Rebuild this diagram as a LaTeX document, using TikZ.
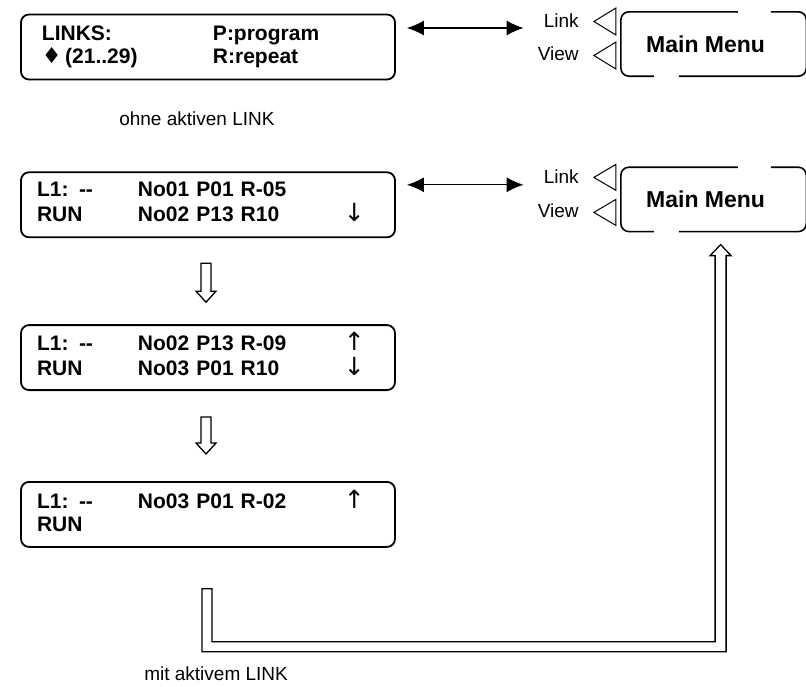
\documentclass[tikz,border=0pt]{standalone}
\usepackage{fontspec}
\setmainfont{Liberation Sans}
\newfontfamily\symfont{DejaVu Sans}
\usetikzlibrary{arrows.meta,positioning,calc}

\begin{document}
\begin{tikzpicture}[
    x=1pt, y=-1pt,
    lcd/.style={draw, line width=1.8pt, rounded corners=8pt, minimum height=65pt, text width=342pt, inner xsep=16pt, inner ysep=0pt, align=left, font=\fontsize{21}{23}\selectfont\bfseries},
    menubox/.style={minimum width=185pt, minimum height=64pt, inner sep=0pt, font=\fontsize{23}{27}\selectfont\bfseries},
    menuedge/.style={line width=1.6pt, rounded corners=8pt},
    keylabel/.style={anchor=east, inner sep=0pt, font=\fontsize{19}{22}\selectfont},
    keytri/.style={line width=1pt, line join=miter},
    captext/.style={inner sep=0pt, font=\fontsize{19}{22}\selectfont},
    dblarrow/.style={{Latex[length=17pt,width=15pt]}-{Latex[length=17pt,width=15pt]}, line width=1.3pt},
    hollow/.style={line width=1.3pt, fill=white, line join=miter}
]
\useasboundingbox (0,0) rectangle (806,686);
% display screens
\node[lcd] (lcd1) at (208,47) {\begin{tabular}{@{\hspace{5pt}}p{171pt}@{}l@{}}
LINKS: & P:program\\
{\symfont\mdseries\fontsize{22}{23}\selectfont ♦}\,(21..29) & R:repeat
\end{tabular}};
\node[lcd, below=91pt of lcd1] (lcd2) {\begin{tabular}{@{}p{101pt}@{}p{206pt}@{}l@{}}
L1: -{}- & No01 P01 R-05 & \\
RUN & No02 P13 R10 & {\symfont\mdseries\fontsize{25}{23}\selectfont ↓}
\end{tabular}};
\node[lcd, below=86pt of lcd2] (lcd3) {\begin{tabular}{@{}p{101pt}@{}p{206pt}@{}l@{}}
L1: -{}- & No02 P13 R-09 & {\symfont\mdseries\fontsize{25}{23}\selectfont ↑}\\
RUN & No03 P01 R10 & {\symfont\mdseries\fontsize{25}{23}\selectfont ↓}
\end{tabular}};
\node[lcd, below=90pt of lcd3] (lcd4) {\begin{tabular}{@{}p{101pt}@{}p{206pt}@{}l@{}}
L1: -{}- & No03 P01 R-02 & {\symfont\mdseries\fontsize{25}{23}\selectfont ↑}\\
RUN & &
\end{tabular}};
% main menu buttons
\node[menubox, right=225pt of lcd1, yshift=3pt] (mm1) {\kern-16pt Main Menu};
\node[menubox, below=91pt of mm1] (mm2) {\kern-16pt Main Menu};
\draw[menuedge] ([xshift=117pt]mm1.north west) -- (mm1.north west) -- (mm1.south west) -- ([xshift=33pt]mm1.south west);
\draw[menuedge] ([xshift=58pt]mm1.south west) -- (mm1.south east) -- (mm1.north east) -- ([xshift=150pt]mm1.north west);
\draw[menuedge] ([xshift=117pt]mm2.north west) -- (mm2.north west) -- (mm2.south west) -- ([xshift=33pt]mm2.south west);
\draw[menuedge] ([xshift=58pt]mm2.south west) -- (mm2.south east) -- (mm2.north east) -- ([xshift=150pt]mm2.north west);
\node[keylabel] (lnk1) at ($(mm1.west)+(-42,-23)$) {Link};
\node[keylabel] (vw1) at ($(mm1.west)+(-42,10)$) {View};
\node[keylabel] (lnk2) at ($(mm2.west)+(-42,-23)$) {Link};
\node[keylabel] (vw2) at ($(mm2.west)+(-42,11)$) {View};
\draw[keytri] ($(mm1.west)+(-5,-36)$) -- ($(mm1.west)+(-27,-22.5)$) -- ($(mm1.west)+(-5,-9)$) -- cycle;
\draw[keytri] ($(mm1.west)+(-5,-2)$) -- ($(mm1.west)+(-27,11.5)$) -- ($(mm1.west)+(-5,25)$) -- cycle;
\draw[keytri] ($(mm2.west)+(-5,-35)$) -- ($(mm2.west)+(-27,-22)$) -- ($(mm2.west)+(-5,-9)$) -- cycle;
\draw[keytri] ($(mm2.west)+(-5,0)$) -- ($(mm2.west)+(-27,13)$) -- ($(mm2.west)+(-5,26)$) -- cycle;
% connectors
\draw[dblarrow] ($(lcd1.east)+(11,-19)$) -- ($(lcd1.east -| lnk1.west)+(-20,-19)$);
\draw[dblarrow] ($(lcd2.east)+(11,-20)$) -- ($(lcd2.east -| lnk2.west)+(-20,-20)$);
\draw[hollow] ($(lcd2.south)+(-7,25)$) -- ++(0,28) -- ++(-5,0) -- ++(10,11) -- ++(10,-11) -- ++(-5,0) -- ++(0,-28) -- cycle;
\draw[hollow] ($(lcd3.south)+(-7,26)$) -- ++(0,26) -- ++(-5,0) -- ++(10,11) -- ++(10,-11) -- ++(-5,0) -- ++(0,-26) -- cycle;
\coordinate (pipein) at ($(lcd4.south)+(-1,41)$);
\coordinate (pipeout) at ($(mm2.south)+(7,13)$);
\draw[hollow] let \p1=(pipein), \p2=(pipeout) in
  (\x1-5pt,\y1) -- (\x1-5pt,\y1-63pt) -- (\x2+5.5pt,\y1-63pt) -- (\x2+5.5pt,\y2-11pt)
  -- (\x2+10.5pt,\y2-11pt) -- (\x2,\y2) -- (\x2-10.5pt,\y2-11pt) -- (\x2-5.5pt,\y2-11pt)
  -- (\x2-5.5pt,\y1-53pt) -- (\x1+5pt,\y1-53pt) -- (\x1+5pt,\y1) -- cycle;
% captions
\node[captext, anchor=west] (cap1) at ($(lcd1.south west)+(99,38)$) {ohne aktiven LINK};
\node[captext, anchor=west] (cap2) at ($(lcd4.south west)+(124,126)$) {mit aktivem LINK};
\end{tikzpicture}
\end{document}
